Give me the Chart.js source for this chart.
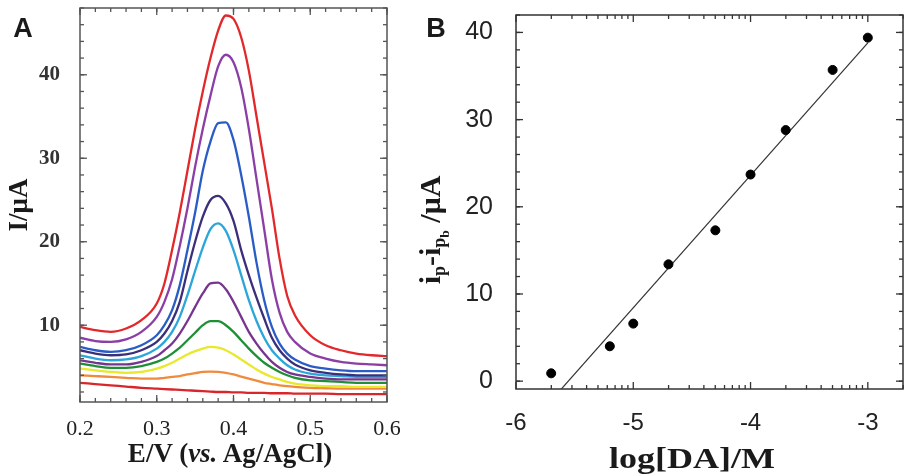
<!DOCTYPE html>
<html>
<head>
<meta charset="utf-8">
<script src="https://cdn.jsdelivr.net/npm/chart.js@4/dist/chart.umd.min.js"></script>
<style>
  body { margin: 0; background: #fff; width: 911px; height: 475px; overflow: hidden; position: relative; }
  #panelA { position: absolute; left: 0; top: 0; }
  #panelB { position: absolute; left: 400px; top: 0; }
  .lbl { position: absolute; white-space: nowrap; color: #1a1a1a; transform: translate(-50%, -50%); }
  .serif { font-family: "Liberation Serif", serif; font-weight: bold; }
  .tag { font-family: "Liberation Sans", sans-serif; font-weight: bold; font-size: 27px; }
  .sub { font-size: 0.6em; vertical-align: -0.3em; }
  .sub2 { font-size: 0.75em; vertical-align: -0.3em; }
</style>
</head>
<body>
<canvas id="panelA" width="400" height="475"></canvas>
<canvas id="panelB" width="511" height="475"></canvas>

<div class="lbl tag" style="left:23px; top:28px;">A</div>
<div class="lbl tag" style="left:436px; top:28px;">B</div>
<div class="lbl serif" style="left:18px; top:205px; font-size:27px; transform:translate(-50%,-50%) rotate(-90deg);">I/μA</div>
<div class="lbl serif" style="left:230px; top:453px; font-size:27px;">E/V (<i>vs.</i> Ag/AgCl)</div>
<div class="lbl serif" style="left:433px; top:230px; font-size:30px; transform:translate(-50%,-50%) rotate(-90deg);">i<span class="sub">p</span>-i<span class="sub">p<span class="sub2">b</span></span> /μA</div>
<div class="lbl serif" style="left:692px; top:458px; font-size:30px; transform:translate(-50%,-50%) scaleX(1.2);">log[DA]/M</div>

<script>
// panel A: DPV curves, potential in V, current in µA
const potentials = [0.20, 0.22, 0.24, 0.26, 0.28, 0.30, 0.31, 0.32, 0.33, 0.34, 0.35, 0.36, 0.37, 0.38, 0.39,
                    0.40, 0.41, 0.42, 0.43, 0.44, 0.45, 0.46, 0.47, 0.48, 0.50, 0.52, 0.54, 0.56, 0.58, 0.60];

const curveRed    = [9.8, 9.4, 9.2, 9.6, 10.6, 12.6, 15.0, 19.0, 23.5, 28.5, 33.5, 38.0, 42.0, 45.3, 47.1,
                     46.7, 44.5, 40.5, 35.0, 29.5, 24.0, 18.0, 13.5, 11.2, 8.8, 7.6, 7.0, 6.6, 6.4, 6.3];
const curveViolet = [8.5, 8.1, 8.0, 8.3, 9.2, 11.0, 12.8, 15.5, 19.5, 24.0, 29.0, 33.5, 37.5, 41.0, 42.4,
                     41.5, 38.5, 33.5, 27.5, 21.5, 15.5, 11.5, 9.2, 8.0, 6.6, 6.0, 5.6, 5.4, 5.3, 5.2];
const curveBlue   = [7.4, 7.0, 6.8, 7.0, 7.6, 8.8, 10.0, 11.8, 14.8, 19.0, 23.5, 28.5, 32.0, 34.2, 34.3,
                     32.2, 28.0, 23.0, 17.5, 13.0, 9.8, 7.8, 6.6, 5.9, 5.1, 4.8, 4.6, 4.5, 4.5, 4.5];
const curveNavy   = [7.0, 6.6, 6.4, 6.5, 7.0, 8.0, 9.0, 10.5, 12.8, 16.5, 20.0, 23.0, 25.0, 25.5, 24.6,
                     22.5, 19.0, 16.0, 13.3, 10.8, 8.5, 7.0, 6.0, 5.3, 4.6, 4.3, 4.1, 4.0, 4.0, 4.0];
const curveCyan   = [6.4, 6.0, 5.8, 5.9, 6.3, 7.2, 8.0, 9.2, 11.0, 13.6, 16.5, 19.3, 21.5, 22.2, 21.3,
                     19.0, 16.0, 13.0, 10.5, 8.5, 7.0, 6.0, 5.2, 4.7, 4.2, 4.0, 3.9, 3.8, 3.8, 3.8];
const curvePurple = [5.8, 5.5, 5.3, 5.3, 5.6, 6.3, 7.0, 7.8, 9.0, 10.5, 12.2, 13.8, 15.0, 15.1, 14.3,
                     12.8, 11.0, 9.2, 7.8, 6.6, 5.6, 4.9, 4.4, 4.1, 3.8, 3.6, 3.5, 3.5, 3.5, 3.5];
const curveGreen  = [5.4, 5.1, 4.9, 4.9, 5.1, 5.6, 6.0, 6.6, 7.3, 8.2, 9.1, 10.0, 10.5, 10.5, 10.0,
                     9.2, 8.2, 7.2, 6.3, 5.5, 4.9, 4.4, 4.0, 3.7, 3.4, 3.3, 3.2, 3.1, 3.1, 3.1];
const curveYellow = [4.8, 4.6, 4.4, 4.3, 4.4, 4.8, 5.1, 5.5, 6.0, 6.5, 6.9, 7.2, 7.4, 7.3, 7.0,
                     6.5, 5.9, 5.3, 4.7, 4.2, 3.8, 3.5, 3.2, 3.0, 2.8, 2.7, 2.7, 2.6, 2.6, 2.6];
const curveOrange = [4.0, 3.9, 3.8, 3.7, 3.6, 3.6, 3.7, 3.8, 3.9, 4.1, 4.25, 4.4, 4.45, 4.4, 4.3,
                     4.1, 3.85, 3.6, 3.35, 3.1, 2.95, 2.8, 2.7, 2.6, 2.5, 2.45, 2.4, 2.4, 2.4, 2.4];
const curveBlank  = [3.1, 2.95, 2.8, 2.65, 2.5, 2.4, 2.35, 2.3, 2.25, 2.2, 2.15, 2.1, 2.05, 2.0, 2.0,
                     1.95, 1.95, 1.9, 1.9, 1.9, 1.85, 1.85, 1.85, 1.8, 1.8, 1.8, 1.75, 1.75, 1.75, 1.75];

const potentialTicks = [0.2, 0.3, 0.4, 0.5, 0.6];
const currentTicks = [10, 20, 30, 40];

// panel B: calibration
const logConc = [-5.7, -5.2, -5.0, -4.7, -4.3, -4.0, -3.7, -3.3, -3.0];
const peakDiff = [0.9, 4.0, 6.6, 13.4, 17.3, 23.7, 28.8, 35.7, 39.4];
const fitX = [-5.62, -3.0];
const fitY = [-1.0, 38.8];

const logTicks = [-6, -5, -4, -3];
const diffTicks = [0, 10, 20, 30, 40];

function pts(xs, ys) {
  return xs.map((x, i) => ({ x: x, y: ys[i] }));
}

function range(a, b, step) {
  let out = [];
  for (let v = a; v <= b + 1e-9; v += step) out.push(+v.toFixed(4));
  return out;
}

// frame + inward ticks on all four sides
const frameTicks = {
  id: 'frameTicks',
  afterDatasetsDraw(chart, args, opts) {
    const { ctx, chartArea: a, scales } = chart;
    ctx.save();
    ctx.strokeStyle = opts.color;
    ctx.lineWidth = opts.width;
    ctx.strokeRect(a.left, a.top, a.right - a.left, a.bottom - a.top);
    const seg = (x1, y1, x2, y2) => { ctx.beginPath(); ctx.moveTo(x1, y1); ctx.lineTo(x2, y2); ctx.stroke(); };
    const xt = (vals, len) => vals.forEach(v => {
      const p = scales.x.getPixelForValue(v);
      if (p < a.left - 0.5 || p > a.right + 0.5) return;
      seg(p, a.bottom, p, a.bottom - len);
      seg(p, a.top, p, a.top + len);
    });
    const yt = (vals, len) => vals.forEach(v => {
      const p = scales.y.getPixelForValue(v);
      if (p < a.top - 0.5 || p > a.bottom + 0.5) return;
      seg(a.left, p, a.left + len, p);
      seg(a.right, p, a.right - len, p);
    });
    ctx.lineWidth = opts.tickWidth;
    xt(opts.xMinor, 4); xt(opts.xMajor, 7);
    yt(opts.yMinor, 4); yt(opts.yMajor, 7);
    ctx.restore();
  }
};

// fixed axis boxes so the plot frames land where the reference has them
const fixX = h => s => { s.height = h; s.paddingLeft = 0; s.paddingRight = 0; };
const fixY = w => s => { s.width = w; s.paddingTop = 0; s.paddingBottom = 0; };

const curveList = [
  [curveRed, '#e2282b'],
  [curveViolet, '#8a3ea6'],
  [curveBlue, '#2a5cc6'],
  [curveNavy, '#3b2f7a'],
  [curveCyan, '#2ba6da'],
  [curvePurple, '#76358f'],
  [curveGreen, '#1f8f36'],
  [curveYellow, '#e8e82c'],
  [curveOrange, '#f08a3c'],
  [curveBlank, '#d8262a']
];

new Chart(document.getElementById('panelA'), {
  type: 'line',
  data: {
    datasets: curveList.map(c => ({
      data: pts(potentials, c[0]),
      borderColor: c[1],
      borderWidth: 2.3,
      pointRadius: 0,
      cubicInterpolationMode: 'monotone',
      fill: false
    }))
  },
  options: {
    responsive: false,
    animation: false,
    layout: { padding: { left: 0, right: 13, top: 8, bottom: 0 } },
    plugins: {
      legend: { display: false },
      tooltip: { enabled: false },
      frameTicks: {
        color: '#555', width: 1.5, tickWidth: 1.3,
        xMajor: potentialTicks, xMinor: range(0.2, 0.6, 0.02),
        yMajor: range(0, 40, 10), yMinor: range(2, 48, 2)
      }
    },
    scales: {
      x: {
        type: 'linear', min: 0.2, max: 0.6,
        grid: { display: false }, border: { display: false },
        afterBuildTicks: s => { s.ticks = potentialTicks.map(v => ({ value: v })); },
        afterFit: fixX(73),
        ticks: { padding: 6, color: '#222', font: { family: 'Liberation Serif', size: 22 }, callback: v => v.toFixed(1), maxRotation: 0 }
      },
      y: {
        min: 0.8, max: 48,
        grid: { display: false }, border: { display: false },
        afterBuildTicks: s => { s.ticks = currentTicks.map(v => ({ value: v })); },
        afterFit: fixY(80),
        ticks: { padding: 12, color: '#333', font: { family: 'Liberation Serif', size: 21, weight: 'bold' } }
      }
    }
  },
  plugins: [frameTicks]
});

// log-decade minor ticks for the concentration axis
let logMinor = [];
[-6, -5, -4, -3].forEach(d => { for (let k = 2; k <= 9; k++) logMinor.push(d + Math.log10(k)); });

new Chart(document.getElementById('panelB'), {
  type: 'scatter',
  data: {
    datasets: [
      {
        data: pts(logConc, peakDiff),
        pointRadius: 4.5,
        pointBackgroundColor: '#000',
        pointBorderColor: '#000',
        showLine: false
      },
      {
        data: pts(fitX, fitY),
        showLine: true,
        borderColor: '#333',
        borderWidth: 1.2,
        pointRadius: 0
      }
    ]
  },
  options: {
    responsive: false,
    animation: false,
    layout: { padding: { left: 0, right: 8, top: 15, bottom: 0 } },
    plugins: {
      legend: { display: false },
      tooltip: { enabled: false },
      frameTicks: {
        color: '#333', width: 1.5, tickWidth: 1.3,
        xMajor: logTicks, xMinor: logMinor,
        yMajor: diffTicks, yMinor: range(0, 42, 2)
      }
    },
    scales: {
      x: {
        type: 'linear', min: -6, max: -2.7,
        grid: { display: false }, border: { display: false },
        afterBuildTicks: s => { s.ticks = logTicks.map(v => ({ value: v })); },
        afterFit: fixX(86),
        ticks: { padding: 12, color: '#222', font: { family: 'Liberation Sans', size: 24 }, maxRotation: 0 }
      },
      y: {
        min: -0.9, max: 42,
        grid: { display: false }, border: { display: false },
        afterBuildTicks: s => { s.ticks = diffTicks.map(v => ({ value: v })); },
        afterFit: fixY(116),
        ticks: { padding: 15, color: '#222', font: { family: 'Liberation Sans', size: 25 } }
      }
    }
  },
  plugins: [frameTicks]
});
</script>
</body>
</html>
